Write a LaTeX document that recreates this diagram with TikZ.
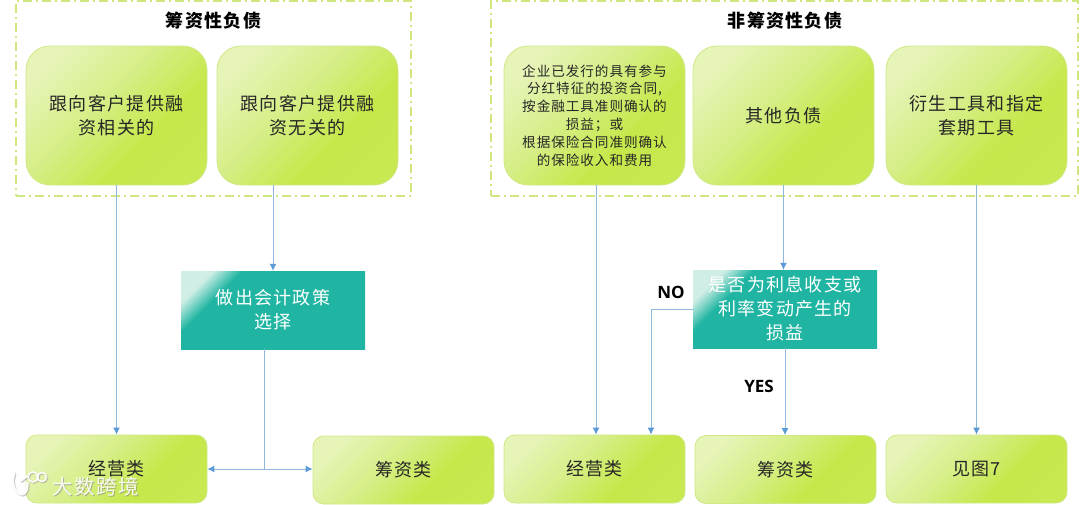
\documentclass[tikz,border=0pt]{standalone}
\usepackage{fontspec}
\setmainfont[LetterSpace=7]{Noto Sans CJK SC}
\newfontfamily\lat{Open Sans}
\usetikzlibrary{arrows.meta,calc,positioning}
\definecolor{gA}{HTML}{E6F4B8}
\definecolor{gB}{HTML}{D6EE86}
\definecolor{gC}{HTML}{C6E84A}
\definecolor{gD}{HTML}{CAEA58}
\definecolor{tA}{HTML}{D0EEE6}
\definecolor{tB}{HTML}{20B5A2}
\definecolor{edgeG}{HTML}{CFE884}
\definecolor{frameG}{HTML}{CFE77E}
\definecolor{lineB}{HTML}{8FB6DC}
\definecolor{tipB}{HTML}{5B9BD5}
\pgfdeclarehorizontalshading{greensh}{100bp}{color(0bp)=(gA);color(24bp)=(gA);color(44bp)=(gB);color(62bp)=(gC);color(100bp)=(gD)}
\pgfdeclarehorizontalshading{tealsh}{100bp}{color(0bp)=(tA);color(23bp)=(tA);color(31bp)=(tB);color(100bp)=(tB)}
\tikzset{
  x=1pt,y=-1pt,
  greenbox/.style={draw=edgeG,line width=0.8pt,shading=greensh,shading angle=-45,minimum width=181pt,align=center,inner sep=0pt,text=black!85},
  tallbox/.style={greenbox,minimum height=139pt,rounded corners=24pt,font=\fontsize{18}{24}\selectfont},
  lowbox/.style={greenbox,minimum height=68pt,rounded corners=11pt,font=\fontsize{18}{24}\selectfont},
  tealbox/.style={draw=none,shading=tealsh,shading angle=-45,minimum width=184pt,minimum height=78pt,align=center,inner sep=0pt,text=white,font=\fontsize{18}{24}\selectfont},
  framebox/.style={draw=frameG,line width=1.4pt,dash pattern=on 9pt off 4pt on 2pt off 4pt},
  conn/.style={draw=lineB,line width=1pt,-{Latex[length=7pt,width=7pt,color=tipB]}},
  plain/.style={draw=lineB,line width=1pt},
  both/.style={draw=lineB,line width=1pt,{Latex[length=7pt,width=7pt,color=tipB]}-{Latex[length=7pt,width=7pt,color=tipB]}},
  title/.style={font=\fontsize{18}{22}\bfseries\selectfont,text=black},
  tag/.style={font=\lat\fontsize{17}{20}\bfseries\selectfont,text=black}
}
\begin{document}
\begin{tikzpicture}
\useasboundingbox (0,0) rectangle (1080,504);
\node[framebox,minimum width=395pt,minimum height=195pt,inner sep=0pt] (f1) at (213.5,98.5) {};
\node[framebox,minimum width=587pt,minimum height=195pt,inner sep=0pt] (f2) at (784.5,98.5) {};
\node[title] (t1) at (213.5,21) {筹资性负债};
\node[title] (t2) at (785,21) {非筹资性负债};
\node[tallbox] (a) at (116.5,115.5) {跟向客户提供融\\资相关的};
\node[tallbox] (b) at (307.5,115.5) {跟向客户提供融\\资无关的};
\node[tallbox,font=\fontsize{13.6}{17.8}\selectfont] (c) at (594.5,115.5) {企业已发行的具有参与\\分红特征的投资合同,\\按金融工具准则确认的\\损益；或\\根据保险合同准则确认\\的保险收入和费用};
\node[tallbox] (d) at (783.5,115.5) {其他负债};
\node[tallbox] (e) at (976.5,115.5) {衍生工具和指定\\套期工具};
\node[tealbox] (p) at (273,310) {做出会计政策\\选择};
\node[tealbox] (q) at (785,309) {是否为利息收支或\\利率变动产生的\\损益};
\node[lowbox] (o1) at (116.5,469) {经营类};
\node[lowbox] (o2) at (403.5,470) {筹资类};
\node[lowbox] (o3) at (594.5,469) {经营类};
\node[lowbox] (o4) at (785.5,469.5) {筹资类};
\node[lowbox] (o5) at (976.5,469) {见图7};
\node[tag] (no) at (671,292) {NO};
\node[tag] (yes) at (759,386) {YES};
\coordinate (ja) at (264,469);
\coordinate (jq) at (651,309);
\coordinate (jc) at (596,185);
\draw[conn] (a.south) -- (o1.north);
\draw[conn] (p.north |- b.south) -- (p.north);
\draw[plain] (p.south -| ja) -- (ja);
\draw[both] (o1.east) -- (o1.east -| o2.west);
\draw[conn] (jc) -- (jc |- o3.north);
\draw[conn] (d.south) -- (d.south |- q.north);
\draw[conn] (q.south) -- (q.south |- o4.north);
\draw[conn] (e.south) -- (o5.north);
\draw[conn] (q.west) -- (jq) -- (jq |- o3.north);
% watermark
\begin{scope}[black!45,opacity=.5,shift={(1,1)}]
\draw[line width=3pt,line cap=round] (14,473) .. controls (11,482) and (13,490) .. (19,493) .. controls (22,496) and (28,493) .. (27,483);
\draw[line width=2.6pt] (27,476) -- (20,481);
\draw[line width=1.6pt] (33,477) circle (5pt);
\draw[line width=1.6pt] (42,477) circle (4.5pt);
\end{scope}
\begin{scope}[white,opacity=.95]
\draw[line width=3pt,line cap=round] (14,473) .. controls (11,482) and (13,490) .. (19,493) .. controls (22,496) and (28,493) .. (27,483);
\draw[line width=2.6pt] (27,476) -- (20,481);
\draw[line width=1.6pt] (33,477) circle (5pt);
\draw[line width=1.6pt] (42,477) circle (4.5pt);
\end{scope}
\node[text=black!50,opacity=.55,font=\fontsize{20.5}{24}\selectfont] (wm0) at (97,487.5) {大数跨境};
\node[text=white,opacity=.9,font=\fontsize{20.5}{24}\selectfont] (wm) at (96,486.5) {大数跨境};
\end{tikzpicture}
\end{document}
